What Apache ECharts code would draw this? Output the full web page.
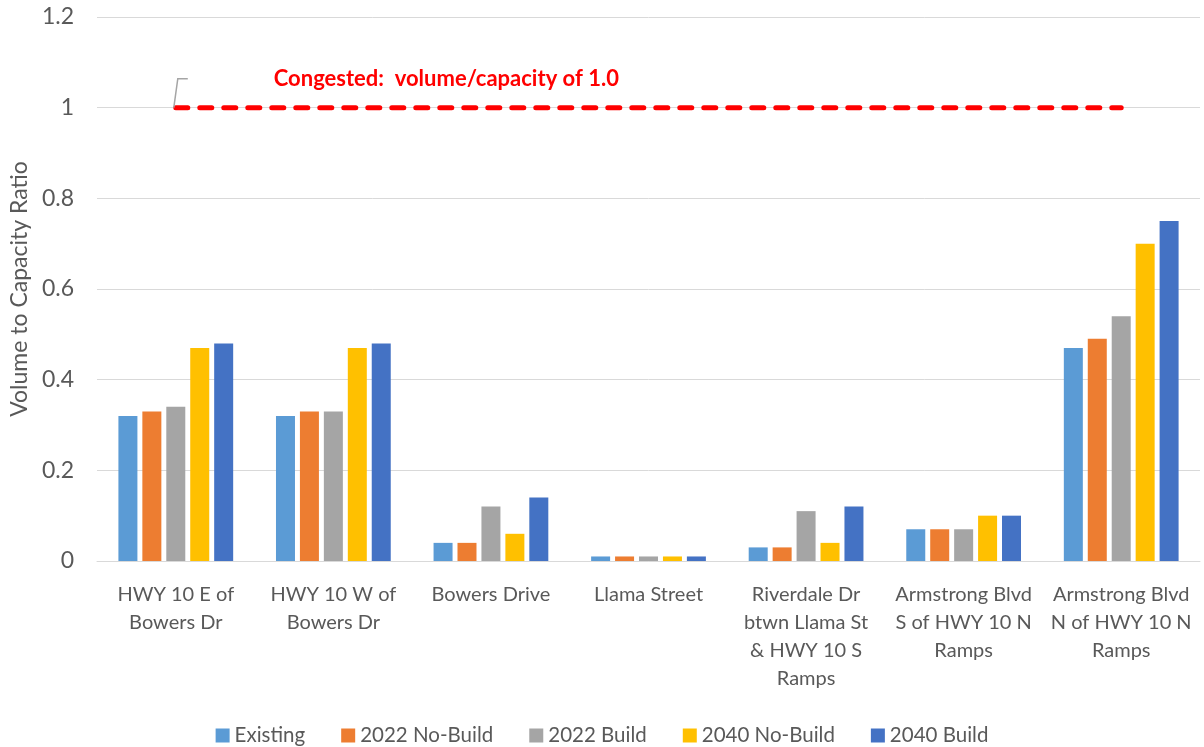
<!DOCTYPE html>
<html>
<head>
<meta charset="utf-8">
<script src="https://cdn.jsdelivr.net/npm/echarts@6/dist/echarts.min.js"></script>
<style>
  html, body { margin: 0; padding: 0; background: #fff; }
  #chart { width: 1204px; height: 747px; }
</style>
</head>
<body>
<div id="chart"></div>
<script>
// Road segments along the corridor
const categories = [
  'HWY 10 E of\nBowers Dr',
  'HWY 10 W of\nBowers Dr',
  'Bowers Drive',
  'Llama Street',
  'Riverdale Dr\nbtwn Llama St\n& HWY 10 S\nRamps',
  'Armstrong Blvd\nS of HWY 10 N\nRamps',
  'Armstrong Blvd\nN of HWY 10 N\nRamps'
];

// Volume-to-capacity ratios per scenario
const existing     = [0.32, 0.32, 0.04, 0.01, 0.03, 0.07, 0.47];
const noBuild2022  = [0.33, 0.33, 0.04, 0.01, 0.03, 0.07, 0.49];
const build2022    = [0.34, 0.33, 0.12, 0.01, 0.11, 0.07, 0.54];
const noBuild2040  = [0.47, 0.47, 0.06, 0.01, 0.04, 0.10, 0.70];
const build2040    = [0.48, 0.48, 0.14, 0.01, 0.12, 0.10, 0.75];

// Congestion threshold
const congested = categories.map(() => 1.0);
const congestedLabel = 'Congested:  volume/capacity of 1.0';

const yTicks = [0, 0.2, 0.4, 0.6, 0.8, 1, 1.2];

const FONT = 'Lato, "Open Sans", sans-serif';
const TXT = '#595959';

const chart = echarts.init(document.getElementById('chart'));

function bar(name, data, color) {
  return {
    name, type: 'bar', data,
    barWidth: 19, barGap: '26%',
    itemStyle: { color },
    emphasis: { disabled: true }
  };
}

chart.setOption({
  animation: false,
  textStyle: { fontFamily: FONT },
  grid: { left: 96, right: 4, top: 17, bottom: 186 },
  legend: {
    bottom: -4,
    left: 'center',
    itemWidth: 14, itemHeight: 14, itemGap: 36,
    icon: 'rect',
    textStyle: { fontSize: 20.5, color: TXT, fontFamily: FONT },
    data: ['Existing', '2022 No-Build', '2022 Build', '2040 No-Build', '2040 Build']
  },
  xAxis: {
    type: 'category',
    data: categories,
    axisLine: { lineStyle: { color: '#d9d9d9', width: 1 } },
    axisTick: { show: false },
    axisLabel: {
      interval: 0, fontSize: 20, color: TXT, lineHeight: 28,
      margin: 20, fontFamily: FONT
    }
  },
  yAxis: {
    type: 'value',
    min: 0, max: 1.2, interval: 0.2,
    name: 'Volume to Capacity Ratio',
    nameLocation: 'middle',
    nameGap: 66,
    nameTextStyle: { fontSize: 23, color: TXT, fontFamily: FONT },
    axisLine: { show: false },
    axisTick: { show: false },
    splitLine: { lineStyle: { color: '#d9d9d9', width: 1 } },
    axisLabel: {
      fontSize: 23, color: TXT, margin: 23, fontFamily: FONT,
      formatter: v => {
        const t = yTicks.find(x => Math.abs(x - v) < 1e-9);
        return String(t !== undefined ? t : v);
      }
    }
  },
  series: [
    bar('Existing', existing, '#5b9bd5'),
    bar('2022 No-Build', noBuild2022, '#ed7d31'),
    bar('2022 Build', build2022, '#a5a5a5'),
    bar('2040 No-Build', noBuild2040, '#ffc000'),
    bar('2040 Build', build2040, '#4472c4'),
    {
      name: 'Congested', type: 'line', data: congested,
      symbol: 'none',
      lineStyle: { color: '#ff0000', width: 5, type: [12, 12], cap: 'round' },
      emphasis: { disabled: true },
      z: 5
    }
  ]
});

// Threshold callout: leader line and label anchored to the first point of the line
function drawCallout() {
  const p = chart.convertToPixel({ xAxisIndex: 0, yAxisIndex: 0 }, [0, congested[0]]);
  const x0 = p[0] - 2, y0 = p[1];
  chart.setOption({
    graphic: [
      {
        type: 'polyline',
        shape: { points: [[x0, y0], [x0 + 4, y0 - 29], [x0 + 14, y0 - 29]] },
        style: { stroke: '#a5a5a5', lineWidth: 1.5, fill: null },
        z: 10
      },
      {
        type: 'text',
        x: x0 + 100, y: y0 - 29,
        style: {
          text: congestedLabel,
          fill: '#ff0000',
          font: 'bold 22px ' + FONT,
          textVerticalAlign: 'middle'
        },
        z: 10
      }
    ]
  });
}
drawCallout();
</script>
</body>
</html>
